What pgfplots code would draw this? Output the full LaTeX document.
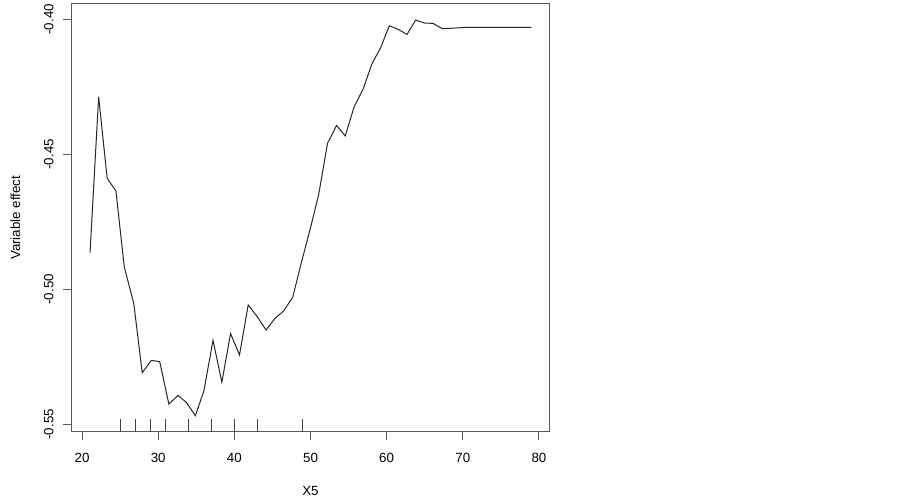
\documentclass[border=0pt]{standalone}
\usepackage{pgfplots}
\pgfplotsset{compat=1.18}
\usepackage{fontspec}
\setmainfont{Liberation Sans}

% partial dependence of X5
\pgfplotstableread{
x      y
21.05  -0.4864
22.18  -0.4287
23.30  -0.4589
24.45  -0.4636
25.54  -0.4916
26.80  -0.5054
27.90  -0.5309
29.10  -0.5263
30.20  -0.5268
31.40  -0.5425
32.60  -0.5393
33.70  -0.5419
34.88  -0.5468
36.00  -0.5376
37.20  -0.5189
38.36  -0.5344
39.50  -0.5164
40.68  -0.5243
41.82  -0.5058
43.00  -0.5101
44.17  -0.5151
45.35  -0.5107
46.48  -0.5080
47.66  -0.5030
48.83  -0.4898
49.93  -0.4780
51.06  -0.4651
52.24  -0.4459
53.42  -0.4393
54.56  -0.4432
55.73  -0.4324
56.90  -0.4259
58.05  -0.4166
59.23  -0.4104
60.35  -0.4024
61.50  -0.4037
62.67  -0.4056
63.80  -0.4003
64.99  -0.4014
66.10  -0.4015
67.30  -0.4035
68.60  -0.4033
70.35  -0.4030
79.00  -0.4030
}\effect

\begin{document}
\begin{tikzpicture}
\path[use as bounding box] (0,0) rectangle (677.25pt,373.5pt);
\begin{axis}[
    at={(54pt,49.7pt)}, anchor=south west,
    width=357.75pt, height=320.8pt,
    scale only axis,
    xmin=18.68, xmax=81.32,
    ymin=-0.55274, ymax=-0.39433,
    xtick={20,30,...,80},
    ytick={-0.55,-0.50,-0.45,-0.40},
    yticklabels={-0.55,-0.50,-0.45,-0.40},
    xtick pos=bottom, ytick pos=left,
    tick align=outside,
    major tick length=6.5pt,
    axis line style={black!65, line width=0.75pt},
    tick style={black!65, line width=0.75pt},
    /pgf/number format/assume math mode=true,
    tick label style={font=\fontsize{10}{12}\selectfont},
    xticklabel style={anchor=base, yshift=-16.3pt},
    yticklabel style={xshift=-7.5pt, rotate=90, anchor=base},
    xlabel={X5},
    ylabel={Variable effect},
    label style={font=\fontsize{10}{12}\selectfont},
    xlabel style={at={(axis description cs:0.5,-0.148)}, anchor=base},
    ylabel style={at={(axis description cs:-0.109,0.5)}, anchor=base, rotate=0},
    unbounded coords=jump,
]
\addplot[black!85, line width=0.75pt] table[x=x, y=y] {\effect};
% rug
\addplot[black!75, line width=0.75pt] coordinates {
    (25,-0.55274) (25,-0.54800) (25,nan)
    (27,-0.55274) (27,-0.54800) (27,nan)
    (29,-0.55274) (29,-0.54800) (29,nan)
    (31,-0.55274) (31,-0.54800) (31,nan)
    (34,-0.55274) (34,-0.54800) (34,nan)
    (37,-0.55274) (37,-0.54800) (37,nan)
    (40,-0.55274) (40,-0.54800) (40,nan)
    (43,-0.55274) (43,-0.54800) (43,nan)
    (49,-0.55274) (49,-0.54800)
};
\end{axis}
\end{tikzpicture}
\end{document}
